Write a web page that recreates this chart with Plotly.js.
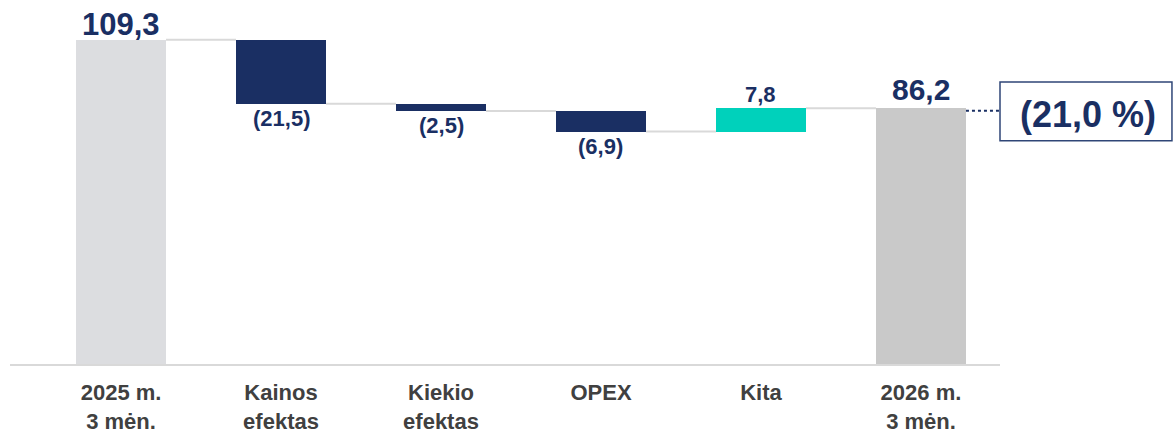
<!DOCTYPE html>
<html>
<head>
<meta charset="utf-8">
<script src="https://cdn.plot.ly/plotly-3.0.1.min.js"></script>
<style>
  html, body { margin: 0; padding: 0; background: #ffffff; }
  #chart { width: 1174px; height: 435px; }
</style>
</head>
<body>
<div id="chart"></div>
<script>
// ---- data ----
const categories = ["2025 m.<br>3 mėn.", "Kainos<br>efektas", "Kiekio<br>efektas", "OPEX", "Kita", "2026 m.<br>3 mėn."];
const measures = ["absolute", "relative", "relative", "relative", "relative", "total"];
const values = [109.3, -21.5, -2.5, -6.9, 7.8, 86.2];
const changeLabel = "(21,0 %)";

// ---- styles ----
const NAVY = "#1a2f63";
const TEAL = "#00d1bb";
const START_GREY = "#dcdde0";
const END_GREY = "#c9c9c9";
const CONNECTOR = "#d9d9d9";
const FONT = "Liberation Sans, Arial, sans-serif";

// compute bases / heights from data
const bases = [], heights = [], colors = [], levels = [];
let running = 0;
values.forEach((v, i) => {
  const m = measures[i];
  if (m === "absolute") {
    bases.push(0); heights.push(v); running = v;
    colors.push(START_GREY);
  } else if (m === "total") {
    bases.push(0); heights.push(v); running = v;
    colors.push(END_GREY);
  } else {
    const start = running;
    running = +(running + v).toFixed(4);
    bases.push(Math.min(start, running));
    heights.push(Math.abs(v));
    colors.push(v < 0 ? NAVY : TEAL);
  }
  levels.push(running);
});

function fmt(v) {
  const s = Math.abs(v).toFixed(1).replace(".", ",");
  return v < 0 ? "(" + s + ")" : s;
}

const xIdx = categories.map((c, i) => i);
const BW = 0.5625;

const trace = {
  type: "bar",
  x: xIdx,
  y: heights,
  base: bases,
  width: BW,
  marker: { color: colors, line: { width: 0 } },
  hoverinfo: "skip",
  showlegend: false
};

// connectors
const shapes = [];
for (let i = 0; i < values.length - 1; i++) {
  shapes.push({
    type: "line", xref: "x", yref: "y",
    x0: i + BW / 2, x1: i + 1 - BW / 2,
    y0: levels[i], y1: levels[i],
    line: { color: CONNECTOR, width: 2 },
    layer: "below"
  });
}
// dotted line from end bar to box
const last = values.length - 1;
shapes.push({
  type: "line", xref: "x", yref: "y",
  x0: last + BW / 2, x1: 5.494,
  y0: levels[last] - 0.8, y1: levels[last] - 0.8,
  line: { color: NAVY, width: 2, dash: "dot" }
});
// change box
shapes.push({
  type: "rect", xref: "paper", yref: "y",
  x0: 1.0, x1: 1.1737,
  y0: 75.3, y1: 95.1,
  line: { color: "#2f4677", width: 1.5 },
  fillcolor: "rgba(0,0,0,0)"
});

const annotations = [];
values.forEach((v, i) => {
  const m = measures[i];
  const top = bases[i] + heights[i];
  const bottom = bases[i];
  let size, yanchor, y, yshift;
  if (m === "absolute") { size = 31; yanchor = "bottom"; y = top; yshift = -4; }
  else if (m === "total") { size = 30; yanchor = "bottom"; y = top; yshift = 0; }
  else if (v < 0) { size = 22; yanchor = "top"; y = bottom; yshift = 0; }
  else { size = 22; yanchor = "bottom"; y = top; yshift = -1; }
  annotations.push({
    x: i, y: y, xref: "x", yref: "y",
    text: fmt(v), showarrow: false,
    xanchor: "center", yanchor: yanchor, yshift: yshift,
    font: { family: FONT, size: size, color: NAVY, weight: "bold" }
  });
});
annotations.push({
  xref: "paper", yref: "y",
  x: 1.0885, y: 84.0,
  text: changeLabel, showarrow: false,
  xanchor: "center", yanchor: "middle",
  font: { family: FONT, size: 36, color: NAVY, weight: "bold" }
});

const layout = {
  width: 1174, height: 435,
  margin: { l: 10, r: 174, t: 20, b: 71, pad: 0 },
  paper_bgcolor: "#ffffff",
  plot_bgcolor: "#ffffff",
  bargap: 0,
  xaxis: {
    range: [-0.694, 5.494],
    tickmode: "array",
    tickvals: xIdx,
    ticktext: categories,
    showgrid: false, zeroline: false,
    showline: true, linecolor: CONNECTOR, linewidth: 2,
    ticks: "",
    ticklabelstandoff: 8,
    tickfont: { family: FONT, size: 22, color: "#404040", weight: "bold" },
    fixedrange: true
  },
  yaxis: {
    range: [0, 116],
    visible: false,
    showgrid: false, zeroline: false,
    fixedrange: true
  },
  shapes: shapes,
  annotations: annotations,
  showlegend: false
};

Plotly.newPlot("chart", [trace], layout, { displayModeBar: false, staticPlot: true });
</script>
</body>
</html>
